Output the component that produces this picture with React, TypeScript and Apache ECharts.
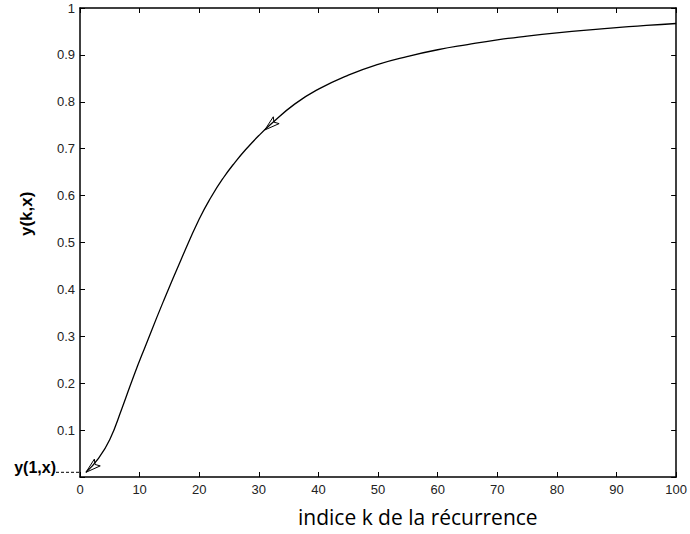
import React, { useEffect, useRef } from "react";
import * as echarts from "echarts";

const kValues = [1, 3, 5, 7, 9, 11, 14, 17, 20, 22, 24, 26, 28, 30, 32, 36, 40, 45, 50, 55, 60, 65, 70, 75, 80, 85, 90, 95, 100];
const yValues = [0.01, 0.038, 0.08, 0.145, 0.215, 0.28, 0.375, 0.465, 0.55, 0.597, 0.637, 0.671, 0.701, 0.728, 0.752, 0.795, 0.827, 0.857, 0.88, 0.897, 0.911, 0.922, 0.932, 0.94, 0.947, 0.953, 0.958, 0.963, 0.967];

// arrow heads: tip (k, y) and a point behind the tip (k, y)
const arrowTips = [[1, 0.01], [31, 0.74]];
const arrowTails = [[3, 0.032], [33.3, 0.765]];

const startLabel = "y(1,x)";
const startValue = 0.01;
const xTitle = "indice k de la récurrence";
const yTitle = "y(k,x)";

export default function App() {
  const ref = useRef<HTMLDivElement>(null);
  useEffect(() => {
    if (!ref.current) return;
    const chart = echarts.init(ref.current, null, { renderer: "svg" });
    const curve = kValues.map((k, i) => [k, yValues[i]]);
    const arrows = arrowTips.map((t, i) => [t[0], t[1], arrowTails[i][0], arrowTails[i][1]]);
    const labelFont = "'Liberation Sans', Arial, sans-serif";
    const mkAxis = () => ({
      axisLine: { show: true, onZero: false, lineStyle: { color: "#000", width: 1.5 } },
      axisTick: { show: true, inside: true, length: 5, lineStyle: { color: "#000", width: 1 } },
      splitLine: { show: false },
    });
    chart.setOption({
      animation: false,
      backgroundColor: "#fff",
      grid: { left: 80, right: 13, top: 8, bottom: 57, containLabel: false },
      graphic: [
        {
          type: "text", left: 298, top: 506,
          style: { text: xTitle, fill: "#000", fontSize: 21, fontFamily: "'Open Sans', sans-serif" },
        },
        {
          type: "text", rotation: Math.PI / 2, x: 18, y: 236,
          style: { text: yTitle, fill: "#000", fontSize: 17, fontWeight: "bold", fontFamily: labelFont, align: "left", verticalAlign: "top" },
        },
      ],
      xAxis: [
        {
          type: "value", min: 0, max: 100, interval: 10, position: "bottom",
          ...mkAxis(),
          axisLabel: { color: "#222", fontSize: 13, margin: 6, fontFamily: labelFont },
        },
        {
          type: "value", min: 0, max: 100, interval: 10, position: "top",
          ...mkAxis(), axisLabel: { show: false },
        },
      ],
      yAxis: [
        {
          type: "value", min: 0, max: 1, interval: 0.1, position: "left",
          ...mkAxis(),
          axisLabel: {
            color: "#222", fontSize: 13, margin: 5, fontFamily: labelFont,
            formatter: (v: number) => (v === 0 ? "" : String(Number(v.toFixed(1)))),
          },
        },
        {
          type: "value", min: 0, max: 1, interval: 0.1, position: "right",
          ...mkAxis(), axisLabel: { show: false },
        },
      ],
      series: [
        {
          type: "line", data: curve, smooth: 0.5, showSymbol: false, symbol: "none",
          lineStyle: { color: "#000", width: 1.3 }, xAxisIndex: 0, yAxisIndex: 0,
        },
        {
          type: "custom", xAxisIndex: 0, yAxisIndex: 0, clip: false,
          data: arrows,
          renderItem: (params: any, api: any) => {
            const p = api.coord([api.value(0), api.value(1)]);
            const q = api.coord([api.value(2), api.value(3)]);
            let dx = q[0] - p[0];
            let dy = q[1] - p[1];
            const len = Math.sqrt(dx * dx + dy * dy) || 1;
            dx /= len; dy /= len;
            const L = 15, w = 4.5;
            const bx = p[0] + dx * L, by = p[1] + dy * L;
            const nx = -dy, ny = dx;
            return {
              type: "polygon",
              shape: { points: [[p[0], p[1]], [bx + nx * w, by + ny * w], [p[0] + dx * L * 0.8, p[1] + dy * L * 0.8], [bx - nx * w, by - ny * w]] },
              style: { fill: "#fff", stroke: "#000", lineWidth: 1 },
            };
          },
        },
        {
          type: "custom", xAxisIndex: 0, yAxisIndex: 0, clip: false,
          data: [[0, startValue]],
          renderItem: (params: any, api: any) => {
            const c = api.coord([api.value(0), api.value(1)]);
            return {
              type: "group",
              children: [
                {
                  type: "line",
                  shape: { x1: c[0] - 24, y1: c[1], x2: c[0], y2: c[1] },
                  style: { stroke: "#000", lineWidth: 1, lineDash: [3, 2] },
                },
                {
                  type: "text",
                  style: {
                    x: c[0] - 24, y: c[1] - 5, text: startLabel, align: "right", verticalAlign: "middle",
                    fill: "#000", fontSize: 16, fontWeight: "bold", fontFamily: labelFont,
                  },
                },
              ],
            };
          },
        },
      ],
    });
    return () => chart.dispose();
  }, []);
  return <div ref={ref} style={{ width: 690, height: 534, position: "absolute", left: 0, top: 0 }} />;
}
